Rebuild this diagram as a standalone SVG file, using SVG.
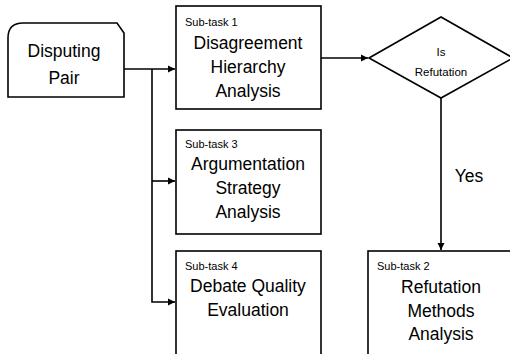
<svg xmlns="http://www.w3.org/2000/svg" width="510" height="354" viewBox="0 0 510 354">
<style>
.box{fill:#fff;stroke:#000;stroke-width:1.6}
.ln{fill:none;stroke:#000;stroke-width:1.6}
.t{font-family:"Liberation Sans",Arial,sans-serif;font-size:17.5px;fill:#000;text-anchor:middle}
.s{font-family:"Liberation Sans",Arial,sans-serif;font-size:11px;fill:#000}
.d{font-family:"Liberation Sans",Arial,sans-serif;font-size:11.5px;fill:#000;text-anchor:middle}
</style>
<defs>
<marker id="ah" markerWidth="8" markerHeight="8" refX="7" refY="4" orient="auto" markerUnits="userSpaceOnUse">
<path d="M0,0.5 L7,4 L0,7.5 Z" fill="#000"/>
</marker>
</defs>
<rect width="510" height="354" fill="#fff"/>
<g id="connectors">
<path class="ln" d="M124,69 H175" marker-end="url(#ah)"/>
<path class="ln" d="M152,69 V302 H175" marker-end="url(#ah)"/>
<path class="ln" d="M152,181 H175" marker-end="url(#ah)"/>
<path class="ln" d="M321,58 H368" marker-end="url(#ah)"/>
<path class="ln" d="M441,98 V250" marker-end="url(#ah)"/>
<text class="t" x="469" y="182">Yes</text>
</g>
<g id="disputing-pair">
<path class="box" d="M8,97 V38 Q8,23 23,23 H117 L124,33 V97 Z"/>
<text class="t" x="64" y="57">Disputing</text>
<text class="t" x="64" y="84">Pair</text>
</g>
<g id="subtask1">
<rect class="box" x="176" y="6" width="145" height="103"/>
<text class="s" x="185" y="26">Sub-task 1</text>
<text class="t" x="248" y="49">Disagreement</text>
<text class="t" x="248" y="73">Hierarchy</text>
<text class="t" x="248" y="97">Analysis</text>
</g>
<g id="subtask3">
<rect class="box" x="176" y="130" width="145" height="104"/>
<text class="s" x="185" y="148">Sub-task 3</text>
<text class="t" x="248" y="170">Argumentation</text>
<text class="t" x="248" y="194">Strategy</text>
<text class="t" x="248" y="218">Analysis</text>
</g>
<g id="subtask4">
<rect class="box" x="176" y="251" width="145" height="110"/>
<text class="s" x="185" y="270">Sub-task 4</text>
<text class="t" x="248" y="292">Debate Quality</text>
<text class="t" x="248" y="316">Evaluation</text>
</g>
<g id="is-refutation">
<path class="box" d="M369,58 L441,17 L513,58 L441,98 Z"/>
<text class="d" x="441" y="56">Is</text>
<text class="d" x="441" y="76">Refutation</text>
</g>
<g id="subtask2">
<rect class="box" x="368" y="251" width="150" height="110"/>
<text class="s" x="377" y="270">Sub-task 2</text>
<text class="t" x="441" y="293">Refutation</text>
<text class="t" x="441" y="317">Methods</text>
<text class="t" x="441" y="340">Analysis</text>
</g>
</svg>
